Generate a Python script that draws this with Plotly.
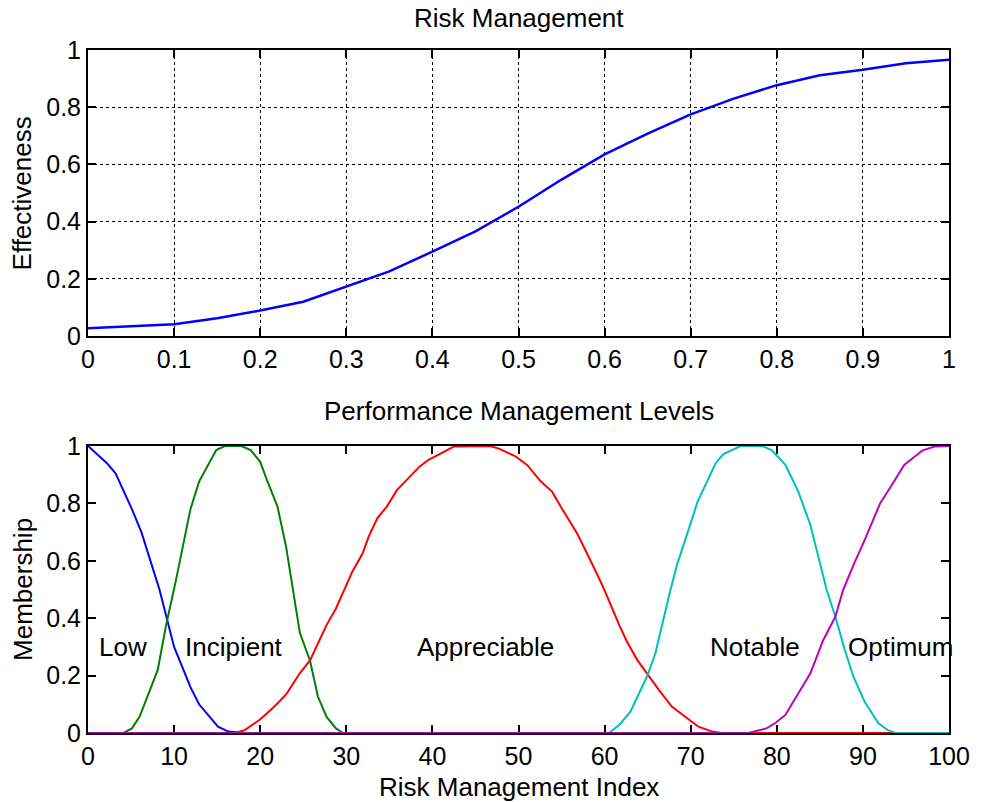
import plotly.graph_objects as go
from plotly.subplots import make_subplots

# --- Risk Management effectiveness curve ---
risk_x = [0.0, 0.05, 0.1, 0.15, 0.2, 0.25, 0.3, 0.35, 0.4, 0.45, 0.5,
          0.55, 0.6, 0.65, 0.7, 0.75, 0.8, 0.85, 0.9, 0.95, 1.0]
risk_y = [0.027, 0.033, 0.041, 0.062, 0.089, 0.120, 0.173, 0.226, 0.295, 0.366, 0.452,
          0.547, 0.635, 0.708, 0.775, 0.830, 0.877, 0.912, 0.931, 0.954, 0.966]

# --- Performance management membership functions ---
low_x = [0, 2.2, 3.2, 5.1, 6.2, 8.3, 10, 11.9, 12.9, 15.1, 16.3, 18.2, 100]
low_y = [1, 0.94, 0.905, 0.78, 0.70, 0.50, 0.30, 0.16, 0.10, 0.022, 0.005, 0, 0]

incipient_x = [0, 4.1, 5.1, 6.0, 8.1, 9.1, 10.2, 11.9, 12.9, 14, 14.9, 15.9, 17.8, 18.9,
               20, 20.8, 22, 23, 24.6, 25.8, 26.7, 27.7, 28.8, 29.6, 100]
incipient_y = [0, 0, 0.016, 0.057, 0.22, 0.38, 0.53, 0.78, 0.876, 0.934, 0.986, 1, 1, 0.986,
               0.945, 0.88, 0.79, 0.65, 0.35, 0.25, 0.127, 0.057, 0.016, 0, 0]

appreciable_x = [0, 17, 18.2, 19.9, 20.8, 22, 23.1, 24.6, 25.8, 26.5, 27.7, 28.8, 29.6, 30.7,
                 31.9, 32.6, 33.6, 34.7, 35.9, 36.8, 38.5, 39.5, 40.6, 42.5, 46.7, 47.8,
                 49.7, 51, 52.6, 53.9, 54.9, 56.8, 58.8, 59.9, 61.7, 62.6, 63.8, 65, 66.3,
                 67.8, 69.4, 70.9, 72.5, 73.6, 100]
appreciable_y = [0, 0, 0.01, 0.045, 0.069, 0.103, 0.138, 0.208, 0.254, 0.30, 0.376, 0.434,
                 0.487, 0.562, 0.626, 0.684, 0.748, 0.789, 0.847, 0.876, 0.928, 0.951, 0.969,
                 0.998, 1, 0.99, 0.963, 0.934, 0.876, 0.841, 0.789, 0.696, 0.574, 0.504,
                 0.376, 0.318, 0.254, 0.202, 0.150, 0.092, 0.057, 0.022, 0.005, 0, 0]

notable_x = [0, 60.5, 61.7, 63, 65, 65.9, 67.5, 68.4, 69.8, 70.8, 71.9, 72.9, 73.8, 75.8,
             78.3, 79.4, 81, 82.5, 83.9, 84.8, 85.8, 86.8, 87.9, 88.9, 90.2, 91.8, 92.9,
             93.8, 100]
notable_y = [0, 0, 0.028, 0.074, 0.202, 0.278, 0.48, 0.585, 0.713, 0.806, 0.876, 0.94,
             0.972, 1, 1, 0.986, 0.934, 0.841, 0.725, 0.62, 0.498, 0.405, 0.289, 0.196,
             0.109, 0.034, 0.01, 0, 0]

optimum_x = [0, 76.7, 78.8, 79.8, 81, 82.5, 83.9, 85.4, 86.8, 87.7, 88.9, 90.2, 92, 93.1,
             94.8, 96.9, 98.3, 100]
optimum_y = [0, 0, 0.016, 0.034, 0.063, 0.138, 0.208, 0.324, 0.405, 0.498, 0.585, 0.672,
             0.80, 0.852, 0.934, 0.984, 0.998, 1]

level_names = ["Low", "Incipient", "Appreciable", "Notable", "Optimum"]
level_label_x = [1, 11, 38, 72, 88]
level_label_y = 0.3

FONT = "Liberation Sans, Arial, sans-serif"
FS_TICK = 25
FS_TEXT = 26

fig = make_subplots(rows=2, cols=1, vertical_spacing=0.0)

fig.add_trace(go.Scatter(x=risk_x, y=risk_y, mode="lines",
                         line=dict(color="#0000FF", width=2.5), showlegend=False),
              row=1, col=1)

series = [
    (low_x, low_y, "#0000FF"),
    (incipient_x, incipient_y, "#008000"),
    (appreciable_x, appreciable_y, "#FF0000"),
    (notable_x, notable_y, "#00BFBF"),
    (optimum_x, optimum_y, "#BF00BF"),
]
for xs, ys, col in series:
    fig.add_trace(go.Scatter(x=xs, y=ys, mode="lines",
                             line=dict(color=col, width=2), showlegend=False),
                  row=2, col=1)

L, R, T, B = 88, 27, 50, 69
W, H = 982, 802
ph = H - T - B
pw = W - L - R


def ypaper(py):
    return (H - B - py) / ph


def xpaper(px):
    return (px - L) / pw


axis_common = dict(
    showline=True, linecolor="black", linewidth=2, mirror="ticks",
    ticks="inside", ticklen=8, tickwidth=1.5, tickcolor="black",
    tickfont=dict(family=FONT, size=FS_TICK, color="black"),
    zeroline=False,
)

fig.update_xaxes(domain=[0, 1], **axis_common)
fig.update_yaxes(**axis_common)

fig.update_xaxes(row=1, col=1, range=[0, 1], tickmode="linear", tick0=0, dtick=0.1,
                 showgrid=True, gridcolor="black", griddash="dot", gridwidth=1)
fig.update_yaxes(row=1, col=1, range=[0, 1], tickmode="linear", tick0=0, dtick=0.2,
                 domain=[ypaper(336), 1],
                 showgrid=True, gridcolor="black", griddash="dot", gridwidth=1)

fig.update_xaxes(row=2, col=1, range=[0, 100], tickmode="linear", tick0=0, dtick=10,
                 showgrid=False, layer="below traces")
fig.update_yaxes(row=2, col=1, range=[0, 1], tickmode="linear", tick0=0, dtick=0.2,
                 domain=[0, ypaper(446)], showgrid=False, layer="below traces")

annotations = []
for name, lx in zip(level_names, level_label_x):
    annotations.append(dict(x=lx, y=level_label_y, xref="x2", yref="y2", text=name,
                            showarrow=False, xanchor="left", yanchor="middle",
                            font=dict(family=FONT, size=FS_TEXT, color="black")))

text_items = [
    ("Risk Management", 522, 18, 0),
    ("Performance Management Levels", 522, 411, 0),
    ("Risk Management Index", 522, 787, 0),
    ("Effectiveness", 22, 193, -90),
    ("Membership", 22, 589.5, -90),
]
for txt, px, py, ang in text_items:
    annotations.append(dict(x=xpaper(px), y=ypaper(py), xref="paper", yref="paper",
                            text=txt, showarrow=False, textangle=ang,
                            xanchor="center", yanchor="middle",
                            font=dict(family=FONT, size=FS_TEXT, color="black")))

fig.update_layout(
    width=W, height=H,
    margin=dict(l=L, r=R, t=T, b=B),
    plot_bgcolor="white", paper_bgcolor="white",
    annotations=annotations,
    showlegend=False,
)

fig.write_html("out.html")
